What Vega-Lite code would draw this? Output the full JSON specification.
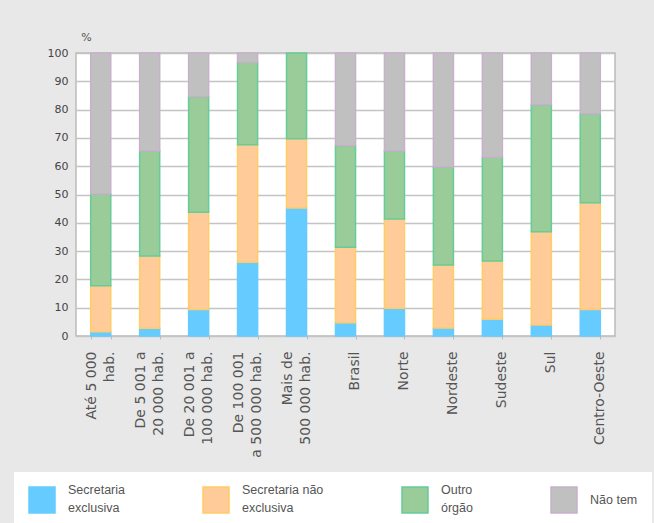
{
  "$schema": "https://vega.github.io/schema/vega-lite/v6.json",
  "autosize": "none",
  "width": 539,
  "height": 283,
  "padding": {"left": 76, "top": 53, "right": 39, "bottom": 187},
  "background": "#e8e8e8",
  "config": {
    "view": {"fill": "white", "stroke": "#bbbbbb", "strokeWidth": 1.5},
    "axis": {"labelFont": "DejaVu Sans", "titleFont": "DejaVu Sans", "labelColor": "#444444", "titleColor": "#555555"}
  },
  "data": {
    "values": [
      {"grupo": "Até 5 000 hab.", "tipo": "Secretaria exclusiva", "ordem": 1, "valor": 1.5},
      {"grupo": "Até 5 000 hab.", "tipo": "Secretaria não exclusiva", "ordem": 2, "valor": 16.3},
      {"grupo": "Até 5 000 hab.", "tipo": "Outro órgão", "ordem": 3, "valor": 32.4},
      {"grupo": "Até 5 000 hab.", "tipo": "Não tem", "ordem": 4, "valor": 49.8},
      {"grupo": "De 5 001 a 20 000 hab.", "tipo": "Secretaria exclusiva", "ordem": 1, "valor": 2.7},
      {"grupo": "De 5 001 a 20 000 hab.", "tipo": "Secretaria não exclusiva", "ordem": 2, "valor": 25.6},
      {"grupo": "De 5 001 a 20 000 hab.", "tipo": "Outro órgão", "ordem": 3, "valor": 37.1},
      {"grupo": "De 5 001 a 20 000 hab.", "tipo": "Não tem", "ordem": 4, "valor": 34.6},
      {"grupo": "De 20 001 a 100 000 hab.", "tipo": "Secretaria exclusiva", "ordem": 1, "valor": 9.4},
      {"grupo": "De 20 001 a 100 000 hab.", "tipo": "Secretaria não exclusiva", "ordem": 2, "valor": 34.3},
      {"grupo": "De 20 001 a 100 000 hab.", "tipo": "Outro órgão", "ordem": 3, "valor": 40.9},
      {"grupo": "De 20 001 a 100 000 hab.", "tipo": "Não tem", "ordem": 4, "valor": 15.4},
      {"grupo": "De 100 001 a 500 000 hab.", "tipo": "Secretaria exclusiva", "ordem": 1, "valor": 26.1},
      {"grupo": "De 100 001 a 500 000 hab.", "tipo": "Secretaria não exclusiva", "ordem": 2, "valor": 41.5},
      {"grupo": "De 100 001 a 500 000 hab.", "tipo": "Outro órgão", "ordem": 3, "valor": 29.1},
      {"grupo": "De 100 001 a 500 000 hab.", "tipo": "Não tem", "ordem": 4, "valor": 3.3},
      {"grupo": "Mais de 500 000 hab.", "tipo": "Secretaria exclusiva", "ordem": 1, "valor": 45.2},
      {"grupo": "Mais de 500 000 hab.", "tipo": "Secretaria não exclusiva", "ordem": 2, "valor": 24.5},
      {"grupo": "Mais de 500 000 hab.", "tipo": "Outro órgão", "ordem": 3, "valor": 30.3},
      {"grupo": "Brasil", "tipo": "Secretaria exclusiva", "ordem": 1, "valor": 4.7},
      {"grupo": "Brasil", "tipo": "Secretaria não exclusiva", "ordem": 2, "valor": 26.7},
      {"grupo": "Brasil", "tipo": "Outro órgão", "ordem": 3, "valor": 35.9},
      {"grupo": "Brasil", "tipo": "Não tem", "ordem": 4, "valor": 32.7},
      {"grupo": "Norte", "tipo": "Secretaria exclusiva", "ordem": 1, "valor": 9.8},
      {"grupo": "Norte", "tipo": "Secretaria não exclusiva", "ordem": 2, "valor": 31.5},
      {"grupo": "Norte", "tipo": "Outro órgão", "ordem": 3, "valor": 24.1},
      {"grupo": "Norte", "tipo": "Não tem", "ordem": 4, "valor": 34.6},
      {"grupo": "Nordeste", "tipo": "Secretaria exclusiva", "ordem": 1, "valor": 2.8},
      {"grupo": "Nordeste", "tipo": "Secretaria não exclusiva", "ordem": 2, "valor": 22.3},
      {"grupo": "Nordeste", "tipo": "Outro órgão", "ordem": 3, "valor": 34.6},
      {"grupo": "Nordeste", "tipo": "Não tem", "ordem": 4, "valor": 40.3},
      {"grupo": "Sudeste", "tipo": "Secretaria exclusiva", "ordem": 1, "valor": 5.9},
      {"grupo": "Sudeste", "tipo": "Secretaria não exclusiva", "ordem": 2, "valor": 20.6},
      {"grupo": "Sudeste", "tipo": "Outro órgão", "ordem": 3, "valor": 36.7},
      {"grupo": "Sudeste", "tipo": "Não tem", "ordem": 4, "valor": 36.8},
      {"grupo": "Sul", "tipo": "Secretaria exclusiva", "ordem": 1, "valor": 3.9},
      {"grupo": "Sul", "tipo": "Secretaria não exclusiva", "ordem": 2, "valor": 32.9},
      {"grupo": "Sul", "tipo": "Outro órgão", "ordem": 3, "valor": 44.9},
      {"grupo": "Sul", "tipo": "Não tem", "ordem": 4, "valor": 18.3},
      {"grupo": "Centro-Oeste", "tipo": "Secretaria exclusiva", "ordem": 1, "valor": 9.4},
      {"grupo": "Centro-Oeste", "tipo": "Secretaria não exclusiva", "ordem": 2, "valor": 37.7},
      {"grupo": "Centro-Oeste", "tipo": "Outro órgão", "ordem": 3, "valor": 31.4},
      {"grupo": "Centro-Oeste", "tipo": "Não tem", "ordem": 4, "valor": 21.5}
    ]
  },
  "mark": {"type": "bar", "strokeWidth": 1.5},
  "encoding": {
    "x": {
      "field": "grupo",
      "type": "nominal",
      "sort": null,
      "scale": {"paddingInner": 0.59, "paddingOuter": 0.3},
      "axis": {
        "title": null,
        "domain": false,
        "labelAngle": -90,
        "labelAlign": "right",
        "labelBaseline": "line-bottom",
        "labelFontSize": 14,
        "labelColor": "#555555",
        "labelLineHeight": 18,
        "labelPadding": 12,
        "tickBand": "extent",
        "ticks": true,
        "tickSize": 3,
        "tickColor": "#bbbbbb",
        "grid": false,
        "labelExpr": "datum.label == 'Até 5 000 hab.' ? ['Até 5 000', 'hab.'] : datum.label == 'De 5 001 a 20 000 hab.' ? ['De 5 001 a', '20 000 hab.'] : datum.label == 'De 20 001 a 100 000 hab.' ? ['De 20 001 a', '100 000 hab.'] : datum.label == 'De 100 001 a 500 000 hab.' ? ['De 100 001', 'a 500 000 hab.'] : datum.label == 'Mais de 500 000 hab.' ? ['Mais de', '500 000 hab.'] : ['', datum.label]"
      }
    },
    "y": {
      "field": "valor",
      "type": "quantitative",
      "stack": "zero",
      "scale": {"domain": [0, 100], "nice": false},
      "axis": {
        "title": "%",
        "titleAngle": 0,
        "titleAlign": "center",
        "titleBaseline": "middle",
        "titleX": 10,
        "titleY": -16,
        "titleFontSize": 11,
        "titleFontWeight": "normal",
        "values": [0, 10, 20, 30, 40, 50, 60, 70, 80, 90, 100],
        "labelFontSize": 11,
        "labelPadding": 8,
        "ticks": false,
        "domain": false,
        "grid": true,
        "gridColor": "#c4c4c4",
        "gridWidth": 1.5
      }
    },
    "order": {"field": "ordem", "type": "quantitative", "sort": "ascending"},
    "color": {
      "field": "tipo",
      "type": "nominal",
      "sort": ["Secretaria exclusiva", "Secretaria não exclusiva", "Outro órgão", "Não tem"],
      "scale": {
        "domain": ["Secretaria exclusiva", "Secretaria não exclusiva", "Outro órgão", "Não tem"],
        "range": ["#66ccff", "#ffcc99", "#99cc99", "#c0c0c0"]
      },
      "legend": {
        "title": null,
        "orient": "none",
        "direction": "horizontal",
        "columns": 4,
        "legendX": -62,
        "legendY": 419,
        "padding": 14,
        "fillColor": "white",
        "symbolType": "square",
        "symbolSize": 676,
        "symbolStrokeWidth": 1.5,
        "labelFont": "Liberation Sans",
        "labelFontSize": 12.5,
        "labelColor": "#555555",
        "labelOffset": 12,
        "labelLimit": 300,
        "columnPadding": 75,
        "labelExpr": "datum.label == 'Não tem' ? datum.label : [slice(datum.label, 0, lastindexof(datum.label, ' ')), slice(datum.label, lastindexof(datum.label, ' ') + 1)]",
        "encode": {"labels": {"update": {"lineHeight": {"value": 18}, "dy": {"signal": "datum.value == 'Não tem' ? 0 : -10"}}}}
      }
    },
    "stroke": {
      "field": "tipo",
      "type": "nominal",
      "sort": ["Secretaria exclusiva", "Secretaria não exclusiva", "Outro órgão", "Não tem"],
      "scale": {
        "domain": ["Secretaria exclusiva", "Secretaria não exclusiva", "Outro órgão", "Não tem"],
        "range": ["#66ccff", "#ffcc66", "#66cc99", "#c8b0cc"]
      },
      "legend": null
    }
  }
}
